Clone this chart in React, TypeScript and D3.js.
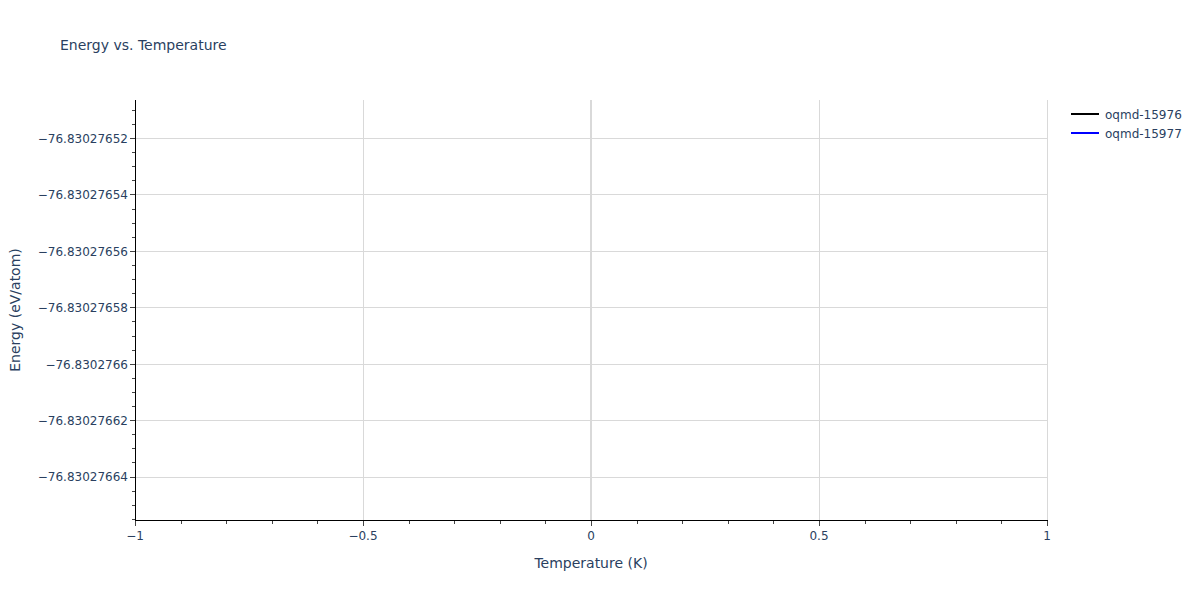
import React from "react";
import * as d3 from "d3";

const title = "Energy vs. Temperature";
const xTitle = "Temperature (K)";
const yTitle = "Energy (eV/atom)";
const seriesNames = ["oqmd-15976", "oqmd-15977"];
const seriesColors = ["#000000", "#0000ff"];
const seriesData: { t: number; e: number }[][] = [[], []];
const xDomain = [-1, 1];
const xTicks = [-1, -0.5, 0, 0.5, 1];
const xMinorStep = 0.1;
const yDomain = [-76.8302766554, -76.8302765065];
const yTicks = [
  -76.83027652, -76.83027654, -76.83027656, -76.83027658, -76.8302766,
  -76.83027662, -76.83027664,
];
const yMinorStep = 5e-9;

const W = 1200;
const H = 600;
const M = { l: 135, r: 153, t: 100, b: 80 };
const FONT = "'DejaVu Sans', Verdana, sans-serif";
const TEXT = "#2a3f5f";
const GRID = "#d9d9d9";

function fmt(v: number, digits: number) {
  let s = v.toFixed(digits);
  if (s.includes(".")) s = s.replace(/0+$/, "").replace(/\.$/, "");
  return s.replace("-", "\u2212");
}

const c = (v: number) => Math.round(v) + 0.5;

export default function App() {
  const x = d3.scaleLinear().domain(xDomain).range([M.l, W - M.r]);
  const y = d3.scaleLinear().domain(yDomain).range([H - M.b, M.t]);
  const x0 = M.l;
  const x1 = W - M.r;
  const y0 = H - M.b;
  const y1 = M.t;

  const xMinor: number[] = [];
  const nx = Math.round((xDomain[1] - xDomain[0]) / xMinorStep);
  for (let i = 0; i <= nx; i++) xMinor.push(xDomain[0] + i * xMinorStep);

  const yMinor: number[] = [];
  const base = yTicks[0];
  for (let k = -10; k <= 40; k++) {
    const v = base - k * yMinorStep;
    if (v >= yDomain[0] && v <= yDomain[1]) yMinor.push(v);
  }

  const line = d3
    .line<{ t: number; e: number }>()
    .x((d) => x(d.t))
    .y((d) => y(d.e));

  return (
    <svg width={W} height={H} style={{ position: "absolute", left: 0, top: 0, background: "#fff" }} fontFamily={FONT}>
      <rect x={0} y={0} width={W} height={H} fill="#fff" />
      {/* grid */}
      {yTicks.map((v, i) => (
        <line key={"gy" + i} x1={x0} x2={x1} y1={c(y(v))} y2={c(y(v))} stroke={GRID} strokeWidth={1} />
      ))}
      {xTicks.map((v, i) =>
        v === 0 ? null : (
          <line key={"gx" + i} x1={c(x(v))} x2={c(x(v))} y1={y1} y2={y0} stroke={GRID} strokeWidth={1} />
        )
      )}
      <line x1={x(0)} x2={x(0)} y1={y1} y2={y0} stroke={GRID} strokeWidth={2} />
      {/* series */}
      {seriesData.map((d, i) =>
        d.length ? <path key={"s" + i} d={line(d) || ""} fill="none" stroke={seriesColors[i]} strokeWidth={2} /> : null
      )}
      {/* axes */}
      {xMinor.map((v, i) => (
        <line key={"xm" + i} x1={c(x(v))} x2={c(x(v))} y1={y0} y2={y0 + 4} stroke="#444" strokeWidth={1} />
      ))}
      {xTicks.map((v, i) => (
        <g key={"xt" + i}>
          <line x1={c(x(v))} x2={c(x(v))} y1={y0} y2={y0 + 6} stroke="#444" strokeWidth={1} />
          <text x={x(v)} y={539.5} textAnchor="middle" fontSize={12} fill={TEXT}>
            {fmt(v, 1)}
          </text>
        </g>
      ))}
      {yMinor.map((v, i) => (
        <line key={"ym" + i} x1={x0 - 3} x2={x0} y1={c(y(v))} y2={c(y(v))} stroke="#444" strokeWidth={1} />
      ))}
      {yTicks.map((v, i) => (
        <g key={"yt" + i}>
          <line x1={x0 - 5} x2={x0} y1={c(y(v))} y2={c(y(v))} stroke="#444" strokeWidth={1} />
          <text x={128} y={y(v) + 4.8} textAnchor="end" fontSize={12} fill={TEXT}>
            {fmt(v, 8)}
          </text>
        </g>
      ))}
      <line x1={x0 + 0.5} x2={x0 + 0.5} y1={y1} y2={y0 + 1} stroke="#000" strokeWidth={1} />
      <line x1={x0} x2={x1 + 1} y1={y0 + 0.5} y2={y0 + 0.5} stroke="#000" strokeWidth={1} />
      {/* titles */}
      <text x={60} y={50} fontSize={14} fill={TEXT}>
        {title}
      </text>
      <text x={(x0 + x1) / 2} y={568} textAnchor="middle" fontSize={14} fill={TEXT}>
        {xTitle}
      </text>
      <text
        transform={`translate(19.5,${(y0 + y1) / 2}) rotate(-90)`}
        textAnchor="middle"
        fontSize={14}
        fill={TEXT}
      >
        {yTitle}
      </text>
      {/* legend */}
      {seriesNames.map((n, i) => (
        <g key={"lg" + i} transform={`translate(1071,${114 + i * 19})`}>
          <line x1={0} x2={28} y1={0} y2={0} stroke={seriesColors[i]} strokeWidth={2} />
          <text x={34} y={4.5} fontSize={12} fill={TEXT}>
            {n}
          </text>
        </g>
      ))}
    </svg>
  );
}
